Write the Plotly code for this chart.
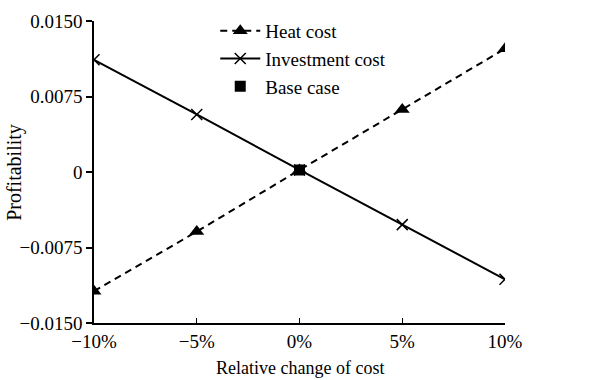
import plotly.graph_objects as go

# Sensitivity of profitability to relative cost changes
change = [-10, -5, 0, 5, 10]
change_labels = ["\u221210%", "\u22125%", "0%", "5%", "10%"]
heat_cost = [-0.01184, -0.00592, 0.0002, 0.00622, 0.01224]
investment_cost = [0.01115, 0.00572, 0.0002, -0.00523, -0.01066]
base_x = [0]
base_y = [0.0002]
y_ticks = [-0.015, -0.0075, 0, 0.0075, 0.015]
y_labels = ["\u22120.0150", "\u22120.0075", "0", "0.0075", "0.0150"]

FONT = "Liberation Serif, Times New Roman, serif"

fig = go.Figure()
fig.add_trace(go.Scatter(
    x=change, y=heat_cost, name="Heat cost", mode="lines+markers",
    line=dict(color="black", width=2, dash="7px,5px"),
    marker=dict(symbol="triangle-up", size=13, color="black"),
))
fig.add_trace(go.Scatter(
    x=change, y=investment_cost, name="Investment cost", mode="lines+markers",
    line=dict(color="black", width=2),
    marker=dict(symbol="x-thin", size=11, line=dict(color="black", width=1.5)),
))
fig.add_trace(go.Scatter(
    x=base_x, y=base_y, name="Base case", mode="markers",
    marker=dict(symbol="square", size=11, color="black"),
))

fig.update_layout(
    width=616, height=380,
    margin=dict(l=94, r=111, t=19, b=57),
    paper_bgcolor="white", plot_bgcolor="white",
    font=dict(family=FONT, size=19, color="black"),
    showlegend=True,
    legend=dict(
        x=0.295, y=1.03, xanchor="left", yanchor="top",
        bgcolor="rgba(0,0,0,0)", font=dict(size=19),
        itemwidth=40, tracegroupgap=0,
    ),
)
fig.update_xaxes(
    range=[-10, 10], tickvals=change, ticktext=change_labels,
    showline=True, linecolor="black", linewidth=1.5,
    ticks="inside", ticklen=5, tickcolor="black", tickwidth=1,
    showgrid=False, zeroline=False, automargin=False,
)
fig.update_yaxes(
    range=[-0.015, 0.015], tickvals=y_ticks, ticktext=y_labels,
    showline=True, linecolor="black", linewidth=1.5,
    ticks="outside", ticklen=6, tickcolor="black", tickwidth=1.5,
    showgrid=False, zeroline=False, automargin=False,
)

# Axis titles placed as annotations relative to the plot area
fig.add_annotation(
    text="Relative change of cost", xref="paper", yref="paper",
    x=0.5, y=-0.148, xanchor="center", yanchor="middle",
    showarrow=False, font=dict(size=18),
)
fig.add_annotation(
    text="Profitability", xref="paper", yref="paper",
    x=-0.195, y=0.5, xanchor="center", yanchor="middle",
    textangle=-90, showarrow=False, font=dict(size=20),
)

fig.write_html("out.html")
